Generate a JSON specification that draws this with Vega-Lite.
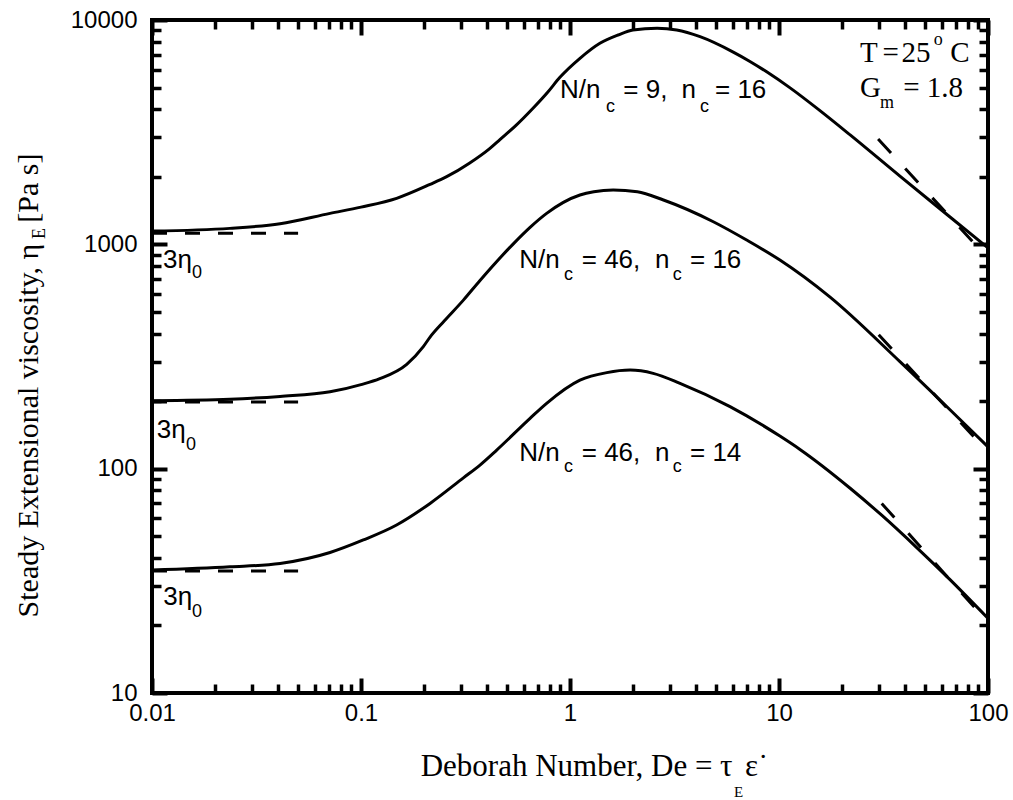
{
  "$schema": "https://vega.github.io/schema/vega-lite/v6.json",
  "width": 836,
  "height": 673,
  "autosize": {"type": "none"},
  "padding": {"left": 152, "top": 20, "right": 25, "bottom": 107},
  "background": "white",
  "view": {"stroke": "black", "strokeWidth": 4},
  "config": {
    "axis": {"grid": false, "domainColor": "black", "tickColor": "black", "labelColor": "black", "titleColor": "black"}
  },
  "datasets": {
    "solid": [
      {"series": "A", "De": 0.01, "eta": 1146}, {"series": "A", "De": 0.0236, "eta": 1178}, {"series": "A", "De": 0.041, "eta": 1235},
      {"series": "A", "De": 0.0711, "eta": 1374}, {"series": "A", "De": 0.1, "eta": 1465}, {"series": "A", "De": 0.148, "eta": 1603},
      {"series": "A", "De": 0.214, "eta": 1850}, {"series": "A", "De": 0.257, "eta": 2002}, {"series": "A", "De": 0.33, "eta": 2300},
      {"series": "A", "De": 0.414, "eta": 2680}, {"series": "A", "De": 0.462, "eta": 2930}, {"series": "A", "De": 0.55, "eta": 3380},
      {"series": "A", "De": 0.667, "eta": 4050}, {"series": "A", "De": 0.78, "eta": 4750}, {"series": "A", "De": 0.895, "eta": 5550},
      {"series": "A", "De": 1.116, "eta": 6745}, {"series": "A", "De": 1.39, "eta": 7870}, {"series": "A", "De": 1.7, "eta": 8575},
      {"series": "A", "De": 2.0, "eta": 9020}, {"series": "A", "De": 2.61, "eta": 9180}, {"series": "A", "De": 3.24, "eta": 9020},
      {"series": "A", "De": 4.19, "eta": 8425}, {"series": "A", "De": 6.04, "eta": 7194}, {"series": "A", "De": 7.26, "eta": 6537},
      {"series": "A", "De": 8.73, "eta": 5875}, {"series": "A", "De": 11.3, "eta": 4981}, {"series": "A", "De": 15.7, "eta": 3944},
      {"series": "A", "De": 21.9, "eta": 3074}, {"series": "A", "De": 37.9, "eta": 2013}, {"series": "A", "De": 65.8, "eta": 1324},
      {"series": "A", "De": 100, "eta": 964},
      {"series": "B", "De": 0.01, "eta": 201}, {"series": "B", "De": 0.0236, "eta": 204}, {"series": "B", "De": 0.041, "eta": 210},
      {"series": "B", "De": 0.0711, "eta": 220}, {"series": "B", "De": 0.1, "eta": 237}, {"series": "B", "De": 0.123, "eta": 252},
      {"series": "B", "De": 0.1655, "eta": 292}, {"series": "B", "De": 0.1987, "eta": 350}, {"series": "B", "De": 0.214, "eta": 386},
      {"series": "B", "De": 0.25, "eta": 455}, {"series": "B", "De": 0.309, "eta": 564}, {"series": "B", "De": 0.371, "eta": 690},
      {"series": "B", "De": 0.5355, "eta": 1005}, {"series": "B", "De": 0.644, "eta": 1190}, {"series": "B", "De": 0.773, "eta": 1374},
      {"series": "B", "De": 1.116, "eta": 1659}, {"series": "B", "De": 1.3, "eta": 1716}, {"series": "B", "De": 1.61, "eta": 1746},
      {"series": "B", "De": 2.1, "eta": 1716}, {"series": "B", "De": 2.8, "eta": 1576}, {"series": "B", "De": 4.85, "eta": 1261},
      {"series": "B", "De": 7.0, "eta": 1045}, {"series": "B", "De": 10.1, "eta": 851}, {"series": "B", "De": 17.5, "eta": 583},
      {"series": "B", "De": 37.9, "eta": 300}, {"series": "B", "De": 65.8, "eta": 183}, {"series": "B", "De": 100, "eta": 125},
      {"series": "C", "De": 0.01, "eta": 35.3}, {"series": "C", "De": 0.0236, "eta": 36.5}, {"series": "C", "De": 0.041, "eta": 37.8},
      {"series": "C", "De": 0.0711, "eta": 42.3}, {"series": "C", "De": 0.1026, "eta": 48.1}, {"series": "C", "De": 0.148, "eta": 56.1},
      {"series": "C", "De": 0.214, "eta": 70}, {"series": "C", "De": 0.309, "eta": 91}, {"series": "C", "De": 0.371, "eta": 103.8},
      {"series": "C", "De": 0.446, "eta": 121}, {"series": "C", "De": 0.644, "eta": 167.6}, {"series": "C", "De": 0.773, "eta": 195.5},
      {"series": "C", "De": 1.116, "eta": 248}, {"series": "C", "De": 1.5, "eta": 268}, {"series": "C", "De": 1.94, "eta": 275},
      {"series": "C", "De": 2.5, "eta": 266}, {"series": "C", "De": 3.36, "eta": 240}, {"series": "C", "De": 5.83, "eta": 189},
      {"series": "C", "De": 10.1, "eta": 139.7}, {"series": "C", "De": 12.6, "eta": 121.8}, {"series": "C", "De": 21.9, "eta": 81.8},
      {"series": "C", "De": 31, "eta": 62}, {"series": "C", "De": 45.6, "eta": 44.5}, {"series": "C", "De": 65.8, "eta": 32},
      {"series": "C", "De": 100, "eta": 21.5}
    ],
    "plateau": [
      {"series": "A", "De": 0.01, "eta": 1120}, {"series": "A", "De": 0.05, "eta": 1120},
      {"series": "B", "De": 0.01, "eta": 198}, {"series": "B", "De": 0.05, "eta": 198},
      {"series": "C", "De": 0.01, "eta": 35}, {"series": "C", "De": 0.05, "eta": 35}
    ],
    "asymptote": [
      {"series": "A", "De": 29.8, "eta": 2947}, {"series": "A", "De": 86.7, "eta": 1001},
      {"series": "B", "De": 30, "eta": 395}, {"series": "B", "De": 90, "eta": 132},
      {"series": "C", "De": 31, "eta": 70}, {"series": "C", "De": 91.6, "eta": 22.6}
    ],
    "textArial": [
      {"De": 0.896, "eta": 4477, "text": "N/n"}, {"De": 1.8, "eta": 4477, "text": "= 9,"}, {"De": 3.42, "eta": 4477, "text": "n"}, {"De": 4.94, "eta": 4477, "text": "= 16"},
      {"De": 0.572, "eta": 781.6, "text": "N/n"}, {"De": 1.138, "eta": 781.6, "text": "= 46,"}, {"De": 2.55, "eta": 781.6, "text": "n"}, {"De": 3.75, "eta": 781.6, "text": "= 16"},
      {"De": 0.572, "eta": 108.4, "text": "N/n"}, {"De": 1.138, "eta": 108.4, "text": "= 46,"}, {"De": 2.55, "eta": 108.4, "text": "n"}, {"De": 3.75, "eta": 108.4, "text": "= 14"},
      {"De": 0.01129, "eta": 784, "text": "3η"}, {"De": 0.01053, "eta": 136.5, "text": "3η"}, {"De": 0.01132, "eta": 24.66, "text": "3η"}
    ],
    "subArial": [
      {"De": 1.486, "eta": 3900, "text": "c"}, {"De": 4.19, "eta": 3900, "text": "c"},
      {"De": 0.936, "eta": 693, "text": "c"}, {"De": 3.1, "eta": 693, "text": "c"},
      {"De": 0.936, "eta": 96.8, "text": "c"}, {"De": 3.1, "eta": 96.8, "text": "c"},
      {"De": 0.01554, "eta": 705, "text": "0"}, {"De": 0.01455, "eta": 121, "text": "0"}, {"De": 0.01554, "eta": 21.9, "text": "0"}
    ],
    "textSerif": [
      {"De": 24.4, "eta": 6516, "text": "T"}, {"De": 31.3, "eta": 6516, "text": "="}, {"De": 38.6, "eta": 6516, "text": "25"}, {"De": 66.0, "eta": 6516, "text": "C"},
      {"De": 24.4, "eta": 4550, "text": "G"}, {"De": 39.3, "eta": 4550, "text": "= 1.8"}
    ],
    "smallSerif": [
      {"De": 55.0, "eta": 7737, "text": "o"}, {"De": 30.4, "eta": 4040, "text": "m"}
    ],
    "tinySerif": [
      {"De": 6.09, "eta": 3.45, "text": "E"}
    ],
    "rotSerif": [
      {"De": 0.003076, "eta": 1056, "text": "E"}
    ]
  },
  "layer": [
    {
      "data": {"name": "solid"},
      "mark": {"type": "line", "color": "black", "strokeWidth": 3, "interpolate": "monotone"},
      "encoding": {
        "x": {"field": "De", "type": "quantitative", "scale": {"type": "log", "domain": [0.01, 100], "nice": false},
          "axis": {"orient": "bottom", "offset": -15, "values": [0.01, 0.1, 1, 10, 100], "format": "~g", "tickSize": 15, "tickWidth": 4, "domain": false,
            "labelFont": "Liberation Sans", "labelFontSize": 24, "labelPadding": 8, "labelOverlap": false, "labelFlush": false, "labelBound": false,
            "title": "Deborah Number, De = τ\u2009\u2009ε˙", "titleFont": "Liberation Serif", "titleFontSize": 31, "titleFontWeight": "normal",
            "titleX": 442, "titleY": 97, "titleBaseline": "alphabetic", "titleAlign": "center"}},
        "y": {"field": "eta", "type": "quantitative", "scale": {"type": "log", "domain": [10, 10000], "nice": false},
          "axis": {"orient": "left", "offset": -15, "values": [10, 100, 1000, 10000], "format": "d", "tickSize": 15, "tickWidth": 4, "domain": false,
            "labelFont": "Liberation Sans", "labelFontSize": 24, "labelPadding": 15, "labelOverlap": false, "labelFlush": false, "labelBound": false,
            "labelBaseline": "middle", "labelAlign": "right",
            "title": "Steady Extensional viscosity, η\u2002\u2009[Pa s]", "titleFont": "Liberation Serif", "titleFontSize": 30, "titleFontWeight": "normal",
            "titleAngle": 270, "titleX": -130, "titleY": 365, "titleBaseline": "alphabetic", "titleAlign": "center"}},
        "detail": {"field": "series"}
      }
    },
    {
      "data": {"name": "plateau"},
      "mark": {"type": "line", "color": "black", "strokeWidth": 3, "strokeDash": [15, 18]},
      "encoding": {
        "x": {"field": "De", "type": "quantitative", "scale": {"type": "log", "domain": [0.01, 100], "nice": false},
          "axis": {"orient": "bottom", "offset": -9, "values": [0.02, 0.03, 0.04, 0.05, 0.06, 0.07, 0.08, 0.09, 0.2, 0.3, 0.4, 0.5, 0.6, 0.7, 0.8, 0.9, 2, 3, 4, 5, 6, 7, 8, 9, 20, 30, 40, 50, 60, 70, 80, 90],
            "tickSize": 9, "tickWidth": 3.5, "labels": false, "domain": false, "title": null}},
        "y": {"field": "eta", "type": "quantitative", "scale": {"type": "log", "domain": [10, 10000], "nice": false},
          "axis": {"orient": "left", "offset": -9, "values": [20, 30, 40, 50, 60, 70, 80, 90, 200, 300, 400, 500, 600, 700, 800, 900, 2000, 3000, 4000, 5000, 6000, 7000, 8000, 9000],
            "tickSize": 9, "tickWidth": 3.5, "labels": false, "domain": false, "title": null}},
        "detail": {"field": "series"}
      }
    },
    {
      "data": {"name": "asymptote"},
      "mark": {"type": "line", "color": "black", "strokeWidth": 3, "strokeDash": [19, 21]},
      "encoding": {
        "x": {"field": "De", "type": "quantitative", "scale": {"type": "log", "domain": [0.01, 100], "nice": false},
          "axis": {"orient": "top", "offset": -15, "values": [0.01, 0.1, 1, 10, 100], "tickSize": 15, "tickWidth": 4, "domain": false, "labels": false, "title": null}},
        "y": {"field": "eta", "type": "quantitative", "scale": {"type": "log", "domain": [10, 10000], "nice": false},
          "axis": {"orient": "right", "offset": -15, "values": [10, 100, 1000, 10000], "tickSize": 15, "tickWidth": 4, "domain": false, "labels": false, "title": null}},
        "detail": {"field": "series"}
      }
    },
    {
      "data": {"name": "textArial"},
      "mark": {"type": "text", "font": "Liberation Sans", "fontSize": 26, "align": "left", "baseline": "alphabetic", "color": "black"},
      "encoding": {
        "x": {"field": "De", "type": "quantitative", "scale": {"type": "log", "domain": [0.01, 100], "nice": false},
          "axis": {"orient": "top", "offset": -9, "values": [0.02, 0.03, 0.04, 0.05, 0.06, 0.07, 0.08, 0.09, 0.2, 0.3, 0.4, 0.5, 0.6, 0.7, 0.8, 0.9, 2, 3, 4, 5, 6, 7, 8, 9, 20, 30, 40, 50, 60, 70, 80, 90],
            "tickSize": 9, "tickWidth": 3.5, "labels": false, "domain": false, "title": null}},
        "y": {"field": "eta", "type": "quantitative", "scale": {"type": "log", "domain": [10, 10000], "nice": false},
          "axis": {"orient": "right", "offset": -9, "values": [20, 30, 40, 50, 60, 70, 80, 90, 200, 300, 400, 500, 600, 700, 800, 900, 2000, 3000, 4000, 5000, 6000, 7000, 8000, 9000],
            "tickSize": 9, "tickWidth": 3.5, "labels": false, "domain": false, "title": null}},
        "text": {"field": "text"}
      }
    },
    {
      "data": {"name": "subArial"},
      "mark": {"type": "text", "font": "Liberation Sans", "fontSize": 18, "align": "left", "baseline": "alphabetic", "color": "black"},
      "encoding": {
        "x": {"field": "De", "type": "quantitative", "scale": {"type": "log", "domain": [0.01, 100], "nice": false}, "axis": null},
        "y": {"field": "eta", "type": "quantitative", "scale": {"type": "log", "domain": [10, 10000], "nice": false}, "axis": null},
        "text": {"field": "text"}
      }
    },
    {
      "data": {"name": "textSerif"},
      "mark": {"type": "text", "font": "Liberation Serif", "fontSize": 29, "align": "left", "baseline": "alphabetic", "color": "black"},
      "encoding": {
        "x": {"field": "De", "type": "quantitative", "scale": {"type": "log", "domain": [0.01, 100], "nice": false}, "axis": null},
        "y": {"field": "eta", "type": "quantitative", "scale": {"type": "log", "domain": [10, 10000], "nice": false}, "axis": null},
        "text": {"field": "text"}
      }
    },
    {
      "data": {"name": "smallSerif"},
      "mark": {"type": "text", "font": "Liberation Serif", "fontSize": 18, "align": "left", "baseline": "alphabetic", "color": "black"},
      "encoding": {
        "x": {"field": "De", "type": "quantitative", "scale": {"type": "log", "domain": [0.01, 100], "nice": false}, "axis": null},
        "y": {"field": "eta", "type": "quantitative", "scale": {"type": "log", "domain": [10, 10000], "nice": false}, "axis": null},
        "text": {"field": "text"}
      }
    },
    {
      "data": {"name": "tinySerif"},
      "mark": {"type": "text", "font": "Liberation Serif", "fontSize": 15, "align": "left", "baseline": "alphabetic", "color": "black"},
      "encoding": {
        "x": {"field": "De", "type": "quantitative", "scale": {"type": "log", "domain": [0.01, 100], "nice": false}, "axis": null},
        "y": {"field": "eta", "type": "quantitative", "scale": {"type": "log", "domain": [10, 10000], "nice": false}, "axis": null},
        "text": {"field": "text"}
      }
    },
    {
      "data": {"name": "rotSerif"},
      "mark": {"type": "text", "font": "Liberation Serif", "fontSize": 18, "align": "left", "baseline": "alphabetic", "angle": 270, "color": "black"},
      "encoding": {
        "x": {"field": "De", "type": "quantitative", "scale": {"type": "log", "domain": [0.01, 100], "nice": false}, "axis": null},
        "y": {"field": "eta", "type": "quantitative", "scale": {"type": "log", "domain": [10, 10000], "nice": false}, "axis": null},
        "text": {"field": "text"}
      }
    }
  ],
  "resolve": {"axis": {"x": "independent", "y": "independent"}}
}
